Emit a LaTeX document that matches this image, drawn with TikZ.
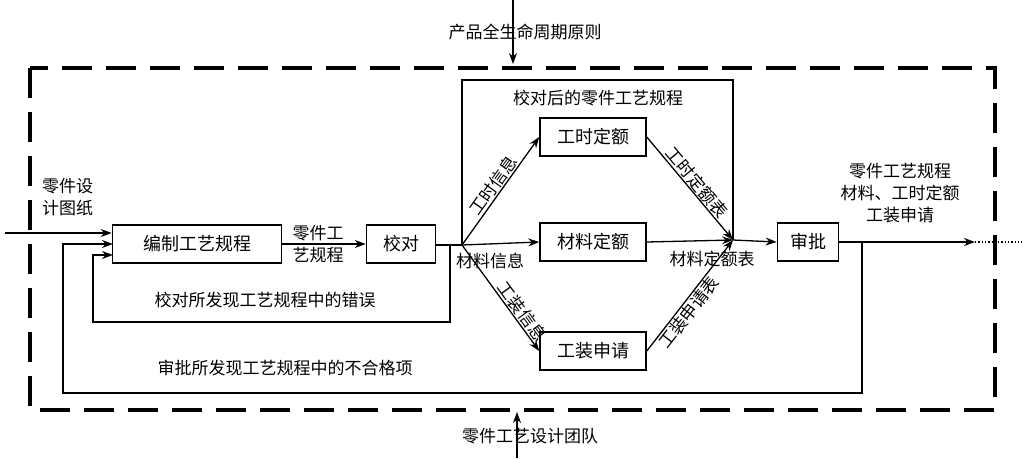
\documentclass[tikz,border=0pt]{standalone}
\usepackage{fontspec}
\setmainfont{Noto Sans CJK SC}[BoldFont=Noto Sans CJK SC Bold]
\usetikzlibrary{arrows.meta}
\begin{document}
\begin{tikzpicture}[x=1pt,y=-1pt,
  box/.style={draw,line width=1.6pt,minimum height=38pt,inner sep=2pt,font=\fontsize{18}{20}\selectfont},
  lab/.style={font=\fontsize{17}{22}\selectfont,inner sep=1pt},
  ln/.style={line width=1.3pt},
  arr/.style={ln,-{Stealth[length=11pt,width=8pt]}}]
\useasboundingbox (0,0) rectangle (1031,458);
\draw[line width=3.5pt,dash pattern=on 30pt off 14pt] (30,68) rectangle (995,410);
% top/bottom
\coordinate (ts) at (513,0); \coordinate (te) at (513,64);
\draw[arr] (ts)--(te);
\node[lab] (tl) at (525,32) {产品全生命周期原则};
\coordinate (bs) at (517,458); \coordinate (be) at (517,412);
\draw[arr] (bs)--(be);
\node[lab] (bl) at (530,436) {零件工艺设计团队};
% boxes
\node[box,minimum width=169pt] (bz) at (197,244) {编制工艺规程};
\node[box,minimum width=69pt] (jd) at (401,244) {校对};
\node[box,minimum width=106pt] (gs) at (593,137) {工时定额};
\node[box,minimum width=106pt] (cl) at (593,242) {材料定额};
\node[box,minimum width=106pt] (gz) at (593,351) {工装申请};
\node[box,minimum width=61pt] (sp) at (808,242) {审批};
% input
\coordinate (in) at (5,233);
\draw[arr] (in) -- (bz.west|-in);
\node[lab,align=left,anchor=west] (inl) at (41,197) {零件设\\计图纸};
\draw[arr] (bz.east) -- (jd.west);
\node[lab,align=left] (l1) at (318,244) {零件工\\艺规程};
% split
\coordinate (sp0) at (462,245);
\coordinate (mg) at (733,240);
\draw[ln] (jd.east|-sp0) -- (sp0);
\draw[ln] (sp0) -- (462,80) -- (733,80) -- (mg);
\node[lab] (l2) at (598,98) {校对后的零件工艺规程};
\draw[arr] (sp0) -- node[lab,sloped,above,pos=0.5] {工时信息} (gs.west);
\draw[arr] (sp0) -- (cl.west);
\node[lab] (l3) at (490,261) {材料信息};
\draw[arr] (sp0) -- node[lab,sloped,above,pos=0.68] {工装信息} (gz.west);
\draw[arr] (gs.east) -- node[lab,sloped,above,pos=0.5] {工时定额表} (mg);
\draw[arr] (cl.east) -- (mg);
\node[lab] (l4) at (712,259) {材料定额表};
\draw[arr] (gz.east) -- node[lab,sloped,below,pos=0.4] {工装申请表} (mg);
\draw[arr] (mg) -- (sp.west);
% feedback 1
\coordinate (f1a) at (450,245);
\coordinate (f1e) at (113,255);
\draw[arr] (f1a) -- (450,322) -- (93,322) -- (93,255) -- (f1e);
\node[lab] (l5) at (265,300) {校对所发现工艺规程中的错误};
% output and feedback 2
\coordinate (o1) at (862,242);
\coordinate (o2) at (975,242);
\coordinate (o3) at (1022,242);
\draw[arr] (sp.east) -- (o2);
\draw[ln,dotted] (o2) -- (o3);
\coordinate (f2e) at (113,244);
\draw[arr] (o1) -- (862,393) -- (63,393) -- (63,244) -- (f2e);
\node[lab] (l6) at (285,368) {审批所发现工艺规程中的不合格项};
\node[lab,align=center] (l7) at (900,193) {零件工艺规程\\材料、工时定额\\工装申请};
\end{tikzpicture}
\end{document}
